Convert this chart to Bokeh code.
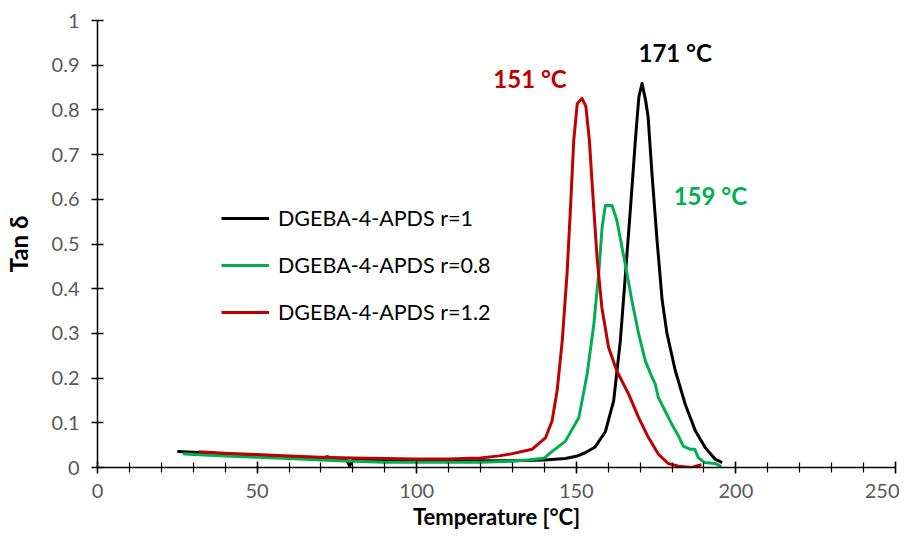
from bokeh.plotting import figure
from bokeh.models import Range1d, FixedTicker, Legend, LegendItem, ColumnDataSource
from bokeh.core.properties import value
from bokeh.embed import file_html
from bokeh.resources import INLINE

# ---------------- data ----------------
temp_r1 = [25, 30, 40, 50, 60, 70, 72, 74, 78, 79, 80, 90, 100, 110, 120, 130, 140, 146.6,
           150, 152.8, 155.9, 159.1, 161.7, 163.8, 165.4, 167.0, 168.5, 169.6, 170.6, 171.7,
           172.5, 173.7, 175.3, 176.9, 178.4, 181.0, 184.1, 187.3, 190.4, 193.6, 195.7]
tan_r1 = [0.036, 0.034, 0.030, 0.025, 0.022, 0.020, 0.024, 0.019, 0.017, 0.004, 0.016, 0.015,
          0.014, 0.014, 0.015, 0.015, 0.017, 0.020, 0.025, 0.033, 0.046, 0.080, 0.149, 0.284,
          0.433, 0.583, 0.732, 0.829, 0.859, 0.822, 0.784, 0.658, 0.508, 0.374, 0.300, 0.217,
          0.142, 0.082, 0.044, 0.018, 0.011]

temp_r08 = [26.7, 30, 40, 50, 60, 70, 80, 90, 100, 110, 120, 130, 135, 140, 141.4, 146.6,
            150.8, 153.4, 155.5, 157.0, 158.1, 159.1, 161.2, 162.7, 164.3, 165.9, 167.4,
            169.5, 171.6, 173.7, 174.7, 175.7, 177.8, 179.9, 182.0, 183.5, 185.6, 187.1,
            188.2, 190.2, 193.4, 195.5]
tan_r08 = [0.031, 0.029, 0.026, 0.023, 0.020, 0.017, 0.014, 0.012, 0.012, 0.012, 0.012, 0.014,
           0.017, 0.021, 0.030, 0.059, 0.112, 0.209, 0.321, 0.433, 0.538, 0.586, 0.586, 0.553,
           0.493, 0.433, 0.374, 0.300, 0.239, 0.202, 0.187, 0.157, 0.127, 0.097, 0.071, 0.048,
           0.041, 0.041, 0.022, 0.011, 0.009, 0.002]

temp_r12 = [31.7, 40, 50, 60, 70, 80, 90, 100, 110, 120, 125.9, 130, 136.2, 140.4, 142.4,
            144.0, 145.6, 147.1, 148.2, 149.2, 150.3, 151.8, 153.0, 154.1, 155.1, 156.5,
            158.0, 160.1, 162.7, 166.4, 169.5, 172.6, 175.7, 178.8, 182.0, 186.1, 189.2]
tan_r12 = [0.035, 0.032, 0.029, 0.026, 0.023, 0.021, 0.020, 0.019, 0.019, 0.021, 0.026, 0.031,
           0.041, 0.067, 0.104, 0.172, 0.284, 0.433, 0.583, 0.732, 0.814, 0.826, 0.808, 0.732,
           0.620, 0.470, 0.358, 0.269, 0.216, 0.164, 0.112, 0.067, 0.030, 0.009, 0.003, 0.000,
           0.006]

series_names = ["DGEBA-4-APDS r=1", "DGEBA-4-APDS r=0.8", "DGEBA-4-APDS r=1.2"]
series_colors = ["#000000", "#00B050", "#C00000"]

peak_labels = ["171 °C", "151 °C", "159 °C"]
peak_label_x = [181, 135.5, 192]
peak_label_y = [0.929, 0.871, 0.609]
peak_label_colors = ["#000000", "#C00000", "#00B050"]

y_ticks = [0, 0.1, 0.2, 0.3, 0.4, 0.5, 0.6, 0.7, 0.8, 0.9, 1.0]
y_tick_labels = ["0", "0.1", "0.2", "0.3", "0.4", "0.5", "0.6", "0.7", "0.8", "0.9", "1"]
x_ticks = [0, 50, 100, 150, 200, 250]
x_minor_ticks = list(range(0, 251, 10))

FONT = "Lato"

p = figure(width=899, height=532, output_backend="svg", toolbar_location=None,
           x_range=Range1d(0, 250), y_range=Range1d(0, 1),
           min_border_left=86, min_border_right=4, min_border_top=20, min_border_bottom=60)
p.outline_line_color = None
p.grid.visible = False
p.background_fill_color = "white"

renderers = []
for xs, ys, c in [(temp_r1, tan_r1, series_colors[0]),
                  (temp_r08, tan_r08, series_colors[1]),
                  (temp_r12, tan_r12, series_colors[2])]:
    r = p.line(xs, ys, line_color=c, line_width=3, line_join="round")
    renderers.append(r)

src = ColumnDataSource(dict(x=peak_label_x, y=peak_label_y, t=peak_labels, c=peak_label_colors))
p.text(x="x", y="y", text="t", text_color="c", source=src, text_font=value(FONT),
       text_font_style="bold", text_font_size="24px", text_align="center",
       text_baseline="middle")

legend = Legend(items=[LegendItem(label=n, renderers=[r]) for n, r in zip(series_names, renderers)],
                location=(124, 142), orientation="vertical")
legend.border_line_color = None
legend.background_fill_alpha = 0
legend.padding = 0
legend.margin = 0
legend.spacing = 21
legend.label_height = 24
legend.glyph_height = 24
legend.glyph_width = 48
legend.label_standoff = 9
legend.label_text_font = FONT
legend.label_text_font_size = "21.5px"
legend.label_text_color = "#000000"
p.add_layout(legend, "center")

# axes
xa = p.xaxis[0]
xa.ticker = FixedTicker(ticks=x_ticks, minor_ticks=x_minor_ticks)
xa.axis_label = "Temperature [°C]"
ya = p.yaxis[0]
ya.ticker = FixedTicker(ticks=y_ticks)
ya.major_label_overrides = {t: l for t, l in zip(y_ticks, y_tick_labels)}
ya.axis_label = "Tan δ"
ya.minor_tick_line_color = None

for ax in (xa, ya):
    ax.axis_line_color = "#000000"
    ax.axis_line_width = 1.5
    ax.major_tick_line_color = "#000000"
    ax.major_tick_line_width = 1.5
    ax.major_tick_in = 6
    ax.major_tick_out = 6
    ax.major_label_text_font = FONT
    ax.major_label_text_font_size = "20px"
    ax.major_label_text_color = "#595959"
    ax.axis_label_text_font = FONT
    ax.axis_label_text_font_style = "bold"
    ax.axis_label_text_font_size = "22px"
    ax.axis_label_text_color = "#000000"

ya.axis_label_text_font_size = "24px"
xa.minor_tick_line_color = "#000000"
xa.minor_tick_line_width = 1.2
xa.minor_tick_in = 5
xa.minor_tick_out = 5
xa.major_label_standoff = 10
xa.axis_label_standoff = 2
ya.major_label_standoff = 12
ya.axis_label_standoff = 16

open("out.html", "w").write(file_html(p, INLINE))
